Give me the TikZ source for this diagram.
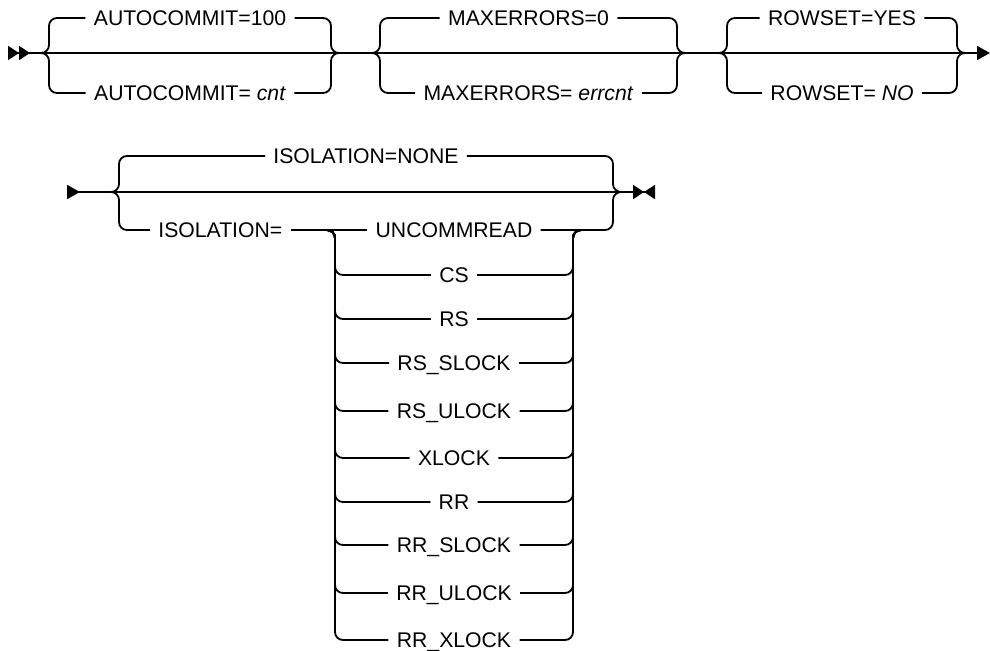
\documentclass[tikz,border=0pt]{standalone}
\usepackage{fontspec}
\setmainfont{Liberation Sans}
\usepackage{tikz}
\usetikzlibrary{arrows.meta}

\begin{document}
\begin{tikzpicture}[x=0.5pt,y=-0.5pt]

    % --- Global Settings ---
    \tikzset{
        rail/.style={line width=0.9pt, rounded corners=4pt},
        keyword/.style={inner xsep=4pt, inner ysep=0pt, text height=7.5pt, text depth=0pt,
            font=\fontsize{10.6}{12}\selectfont}
    }
    \useasboundingbox (0,0) rectangle (990,650);

    % --- Row 1: three choices on one rail ---
    \coordinate (in1) at (8,53);
    \coordinate (out1) at (990,53);
    \draw[line width=0.9pt, {Triangle[reversed, length=5.5pt, width=7pt]Triangle[reversed, length=5.5pt, width=7pt]}-{Triangle[length=6.5pt, width=7pt]}] (in1) -- (out1);

    \foreach \i/\l/\r/\up/\dn in {
        1/49/331/{AUTOCOMMIT=100}/{AUTOCOMMIT= \textit{cnt}},
        2/380/677/{MAXERRORS=0}/{MAXERRORS= \textit{errcnt}},
        3/727/957/{ROWSET=YES}/{ROWSET= \textit{NO}}} {
        \node[keyword] (up\i) at ({(\l+\r)/2},18) {\up\ };
        \node[keyword] (dn\i) at ({(\l+\r)/2},93) {\dn\ };
        \draw[rail] (\l-8,53) -| (\l,18) -- (up\i.west);
        \draw[rail] (\l-8,53) -| (\l,93) -- (dn\i.west);
        \draw[rail] (up\i.east) -| (\r,53) -- (\r+8,53);
        \draw[rail] (dn\i.east) -| (\r,53) -- (\r+8,53);
    }

    % --- Row 2: isolation level ---
    \coordinate (in2) at (67,192);
    \coordinate (out2) at (655,192);
    \draw[line width=0.9pt, {Triangle[reversed, length=6.5pt, width=7pt]}-{Triangle[length=5.5pt, width=7pt]Triangle[reversed, length=5.5pt, width=7pt]}] (in2) -- (out2);

    \node[keyword] (none) at (366,156) {ISOLATION=NONE\ };
    \node[keyword, anchor=west] (iso) at (150,230) {ISOLATION=\ };

    \draw[rail] (111,192) -| (119,156) -- (none.west);
    \draw[rail] (111,192) -| (119,230) -- (iso.west);
    \draw[rail] (none.east) -| (613,192) -- (621,192);

    % Options stacked under ISOLATION=
    \foreach \i/\y/\t in {1/230/UNCOMMREAD, 2/275/CS, 3/319/RS, 4/363/RS\_SLOCK,
        5/411/RS\_ULOCK, 6/458/XLOCK, 7/502/RR, 8/545/RR\_SLOCK,
        9/593/RR\_ULOCK, 10/640/RR\_XLOCK} {
        \node[keyword] (opt\i) at (454,\y) {\t\ };
    }

    \coordinate (fork) at (327,230);
    \draw[rail] (iso.east) -- (opt1.west);
    \draw[rail] (opt1.east) -| (613,192) -- (621,192);

    \foreach \i/\y in {2/275, 3/319, 4/363, 5/411, 6/458, 7/502, 8/545, 9/593, 10/640} {
        \draw[rail] (fork) -| (335,\y) -- (opt\i.west);
        \draw[rail] (opt\i.east) -| (573,230) -- (583,230);
    }

\end{tikzpicture}
\end{document}
